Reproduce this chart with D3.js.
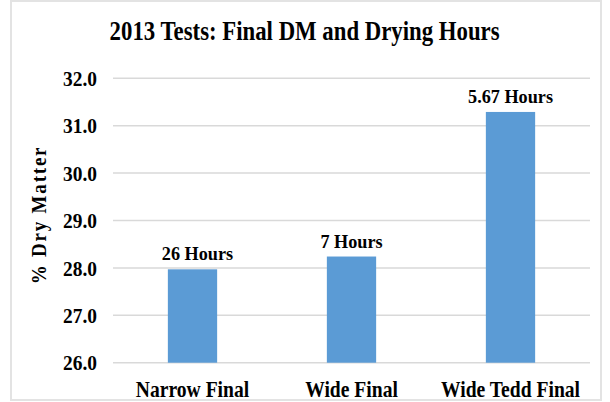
<!DOCTYPE html>
<html><head><meta charset="utf-8">
<script src="https://cdn.jsdelivr.net/npm/d3@7"></script>
<style>body{margin:0;background:#fff;} svg{display:block;}</style>
</head><body>
<script>
const categories = ["Narrow Final", "Wide Final", "Wide Tedd Final"];
const values = [27.97, 28.24, 31.29];
const labels = ["26 Hours", "7 Hours", "5.67 Hours"];
const yTicks = [26, 27, 28, 29, 30, 31, 32];
const title = "2013 Tests: Final DM and Drying Hours";
const yTitle = "% Dry Matter";

const W = 610, H = 402;
const svg = d3.select("body").append("svg").attr("width", W).attr("height", H);
const font = "Liberation Serif, Times New Roman, DejaVu Serif, serif";

svg.append("rect").attr("x", 11).attr("y", 1).attr("width", 590).attr("height", 399)
  .attr("fill", "#fff").attr("stroke", "#e3e3e3").attr("stroke-width", 2);

const x = d3.scaleBand().domain(categories).range([113, 590]).paddingInner(0.69).paddingOuter(0.345);
const y = d3.scaleLinear().domain([26, 32]).range([362.7, 78.3]);

const grid = svg.append("g");
grid.selectAll("line").data(yTicks).join("line")
  .attr("x1", 113).attr("x2", 590)
  .attr("y1", d => y(d)).attr("y2", d => y(d))
  .attr("stroke", "#d9d9d9").attr("stroke-width", 1.5);

const yAxis = svg.append("g").attr("transform", "translate(97,0)")
  .call(d3.axisLeft(y).tickValues(yTicks).tickFormat(d3.format(".1f")).tickSize(0).tickPadding(0));
yAxis.select(".domain").remove();
yAxis.selectAll("text").style("font-family", font).attr("font-weight", "bold")
  .attr("font-size", 19.4).attr("fill", "#000")
  .attr("x", 0).attr("y", 0).attr("dy", 0)
  .attr("transform", "translate(0,7.2) scale(1,1.07)");

svg.selectAll("rect.bar").data(values).join("rect").attr("class", "bar")
  .attr("x", (d, i) => x(categories[i]))
  .attr("width", x.bandwidth())
  .attr("y", d => y(d))
  .attr("height", d => y(26) - y(d))
  .attr("fill", "#5b9bd5");

svg.selectAll("text.lbl").data(values).join("text").attr("class", "lbl")
  .attr("transform", (d, i) => `translate(${x(categories[i]) + x.bandwidth() / 2 + (i === 0 ? 5 : 0)},${y(d) - 9}) scale(1,1.08)`)
  .attr("text-anchor", "middle")
  .style("font-family", font).attr("font-weight", "bold").attr("font-size", 18.2)
  .text((d, i) => labels[i]);

const xAxis = svg.append("g").attr("transform", "translate(0,362.7)")
  .call(d3.axisBottom(x).tickSize(0).tickPadding(0));
xAxis.select(".domain").remove();
xAxis.selectAll("text").style("font-family", font).attr("font-weight", "bold")
  .attr("font-size", 19.6).attr("fill", "#000")
  .attr("y", 0).attr("dy", 0)
  .attr("transform", "translate(0,34) scale(1,1.16)");

svg.append("text").attr("transform", "translate(304.6,40) scale(1,1.18)").attr("text-anchor", "middle")
  .style("font-family", font).attr("font-weight", "bold").attr("font-size", 22.8)
  .text(title);

svg.append("text").attr("transform", "translate(45.5,215) rotate(-90) scale(1,1.1)")
  .attr("text-anchor", "middle")
  .style("font-family", font).attr("font-weight", "bold").attr("font-size", 19)
  .attr("letter-spacing", 1.8)
  .text(yTitle);
</script>
</body></html>
